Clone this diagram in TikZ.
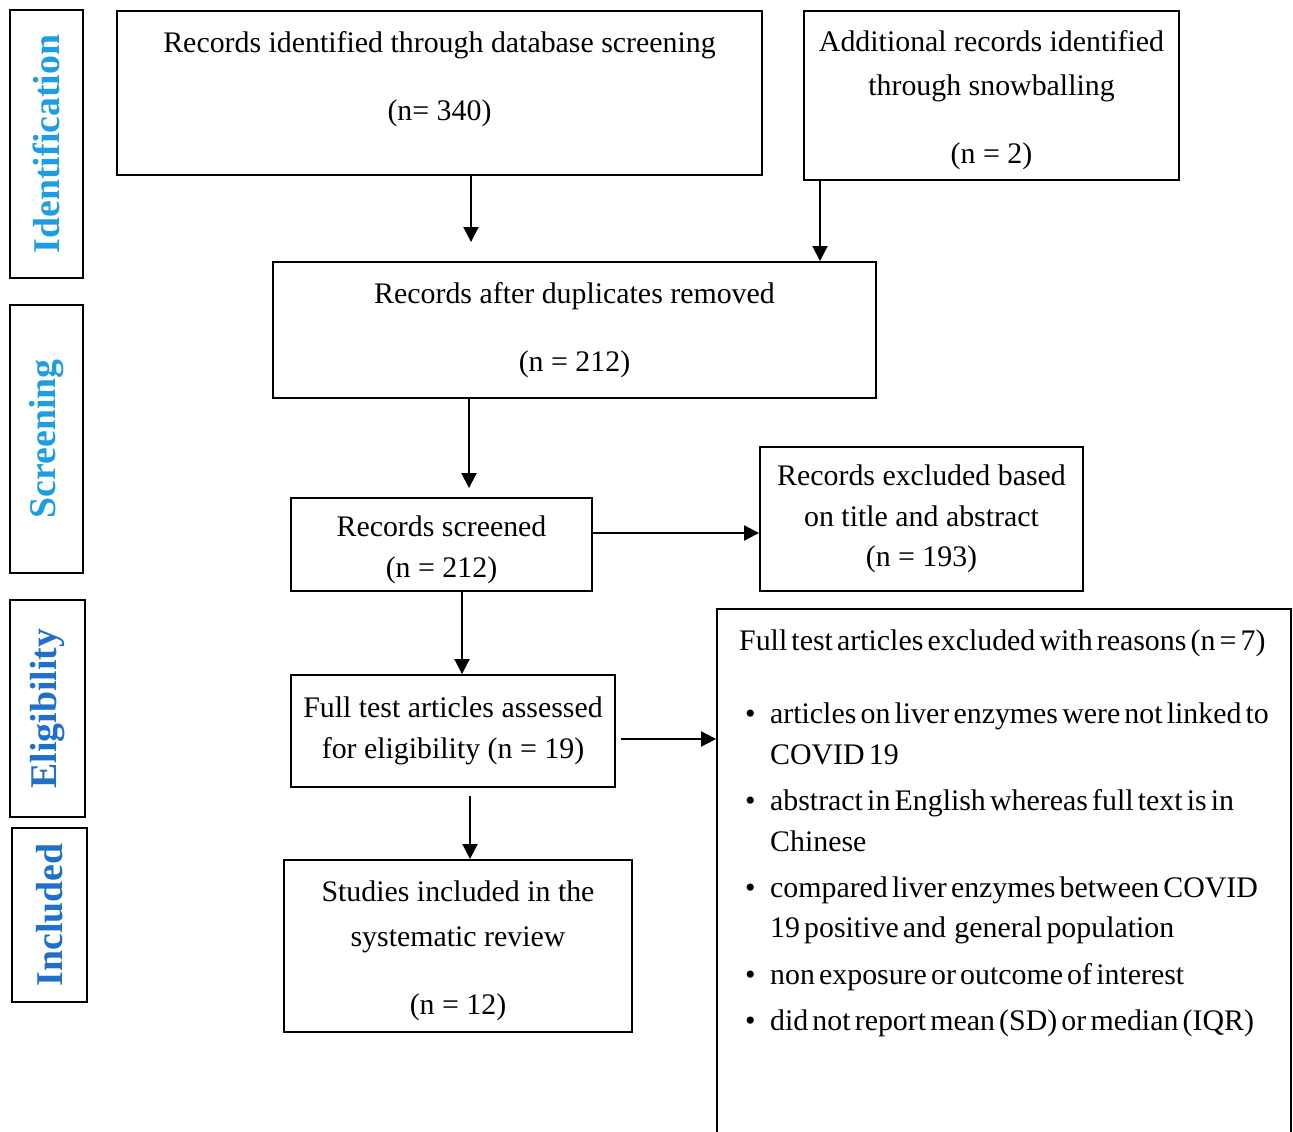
\documentclass[tikz,border=0pt]{standalone}
\usepackage{fontspec}
\setmainfont{Liberation Serif}
\usetikzlibrary{arrows.meta,calc}

\definecolor{stageA}{RGB}{30,158,226}
\definecolor{stageB}{RGB}{31,112,200}
\newcommand{\itm}{\hspace*{0.12cm}\makebox[0.5cm][l]{\textbullet}}
\newcommand{\cont}{\hspace*{0.62cm}}
\newcommand{\tightsp}{\fontsize{17}{23}\selectfont\spaceskip 0.14em plus 0.05em\relax}
\newcommand{\topgap}{\rule{0pt}{0.62cm}}

\begin{document}
\begin{tikzpicture}[x=0.02cm,y=-0.02cm,
   box/.style={rectangle,draw,line width=1.1pt,align=center,
    font=\fontsize{17}{23}\selectfont,inner sep=0pt},
   tab/.style={rectangle,draw,line width=1.1pt,rotate=90,
    font=\fontsize{21.5}{24}\selectfont\bfseries},
   arr/.style={-{Triangle[width=0.3cm,length=0.3cm]},line width=1.1pt}
    ]

    \useasboundingbox (0,0) rectangle (1293,1131);
    \clip (0,0) rectangle (1293,1131);

    % Stage tabs:
    \node[tab,text=stageA,minimum width=5.36cm,minimum height=1.46cm] (tabid) at (46.5,144) {Identification};
    \node[tab,text=stageA,minimum width=5.36cm,minimum height=1.46cm] (tabscr) at (46.5,439) {Screening};
    \node[tab,text=stageB,minimum width=4.34cm,minimum height=1.5cm] (tabelig) at (47.5,708.5) {Eligibility};
    \node[tab,text=stageB,minimum width=3.48cm,minimum height=1.5cm] (tabincl) at (49.5,915) {Included};

    % Boxes:
    \node[box,minimum width=12.9cm,minimum height=3.28cm] (dbase) at (439.5,93)
      {Records identified through database screening\\[0.56cm](n= 340)\rule[-0.67cm]{0pt}{0pt}};
    \node[box,minimum width=7.5cm,minimum height=3.38cm] (snow) at (991.5,95.5)
      {\topgap Additional records identified\\[0.06cm]through snowballing\\[0.56cm](n = 2)};
    \node[box,minimum width=12.06cm,minimum height=2.72cm] (dupl) at (574.5,330)
      {Records after duplicates removed\\[0.56cm](n = 212)};
    \node[box,minimum width=6.02cm,minimum height=1.86cm] (screen) at (441.5,544.5)
      {\topgap Records screened\\(n = 212)};
    \node[box,minimum width=6.46cm,minimum height=2.88cm] (exclA) at (921.5,519)
      {Records excluded based\\on title and abstract\\(n = 193)};
    \node[box,minimum width=6.48cm,minimum height=2.24cm] (fulltext) at (453,731)
      {Full test articles assessed\\for eligibility (n = 19)};
    \node[box,minimum width=6.96cm,minimum height=3.44cm] (incl) at (458,946)
      {\topgap Studies included in the\\[0.08cm]systematic review\\[0.56cm](n = 12)};

    % reasons box (runs off the page)
    \node[box,align=left,minimum width=11.48cm,minimum height=11.22cm,
      font=\tightsp] (reasons) at (1004,889.5)
      {Full test articles excluded with reasons (n = 7)\\[0.66cm]
       \itm articles on liver enzymes were not linked to\hspace*{0.16cm}\\
       \cont COVID 19\\[0.12cm]
       \itm abstract in English whereas full text is in\\
       \cont Chinese\\[0.12cm]
       \itm compared liver enzymes between COVID\\
       \cont 19 positive and \ general population\\[0.12cm]
       \itm non exposure or outcome of interest\\[0.12cm]
       \itm did not report mean (SD) or median (IQR)\rule[-2.37cm]{0pt}{0pt}};

    % arrows

    \coordinate (colA) at (471,0);
    \coordinate (colB) at (820,0);
    \coordinate (colC) at (469,0);
    \coordinate (colD) at (462,0);
    \coordinate (colE) at (470,0);
    \coordinate (rowA) at (0,533);
    \coordinate (rowB) at (0,739);

    \draw[arr,shorten >=0.38cm] (dbase.south -| colA) -- (dupl.north -| colA);
    \draw[arr] (snow.south -| colB) -- (dupl.north -| colB);
    \draw[arr,shorten >=0.18cm] (dupl.south -| colC) -- (screen.north -| colC);
    \draw[arr] (screen.east |- rowA) -- (exclA.west |- rowA); % screened -> excluded
    \draw[arr] (screen.south -| colD) -- (fulltext.north -| colD);
    \draw[arr,shorten <=0.1cm] (fulltext.east |- rowB) -- (reasons.west |- rowB);
    \draw[arr,shorten <=0.16cm] (fulltext.south -| colE) -- (incl.north -| colE);

\end{tikzpicture}
\end{document}
